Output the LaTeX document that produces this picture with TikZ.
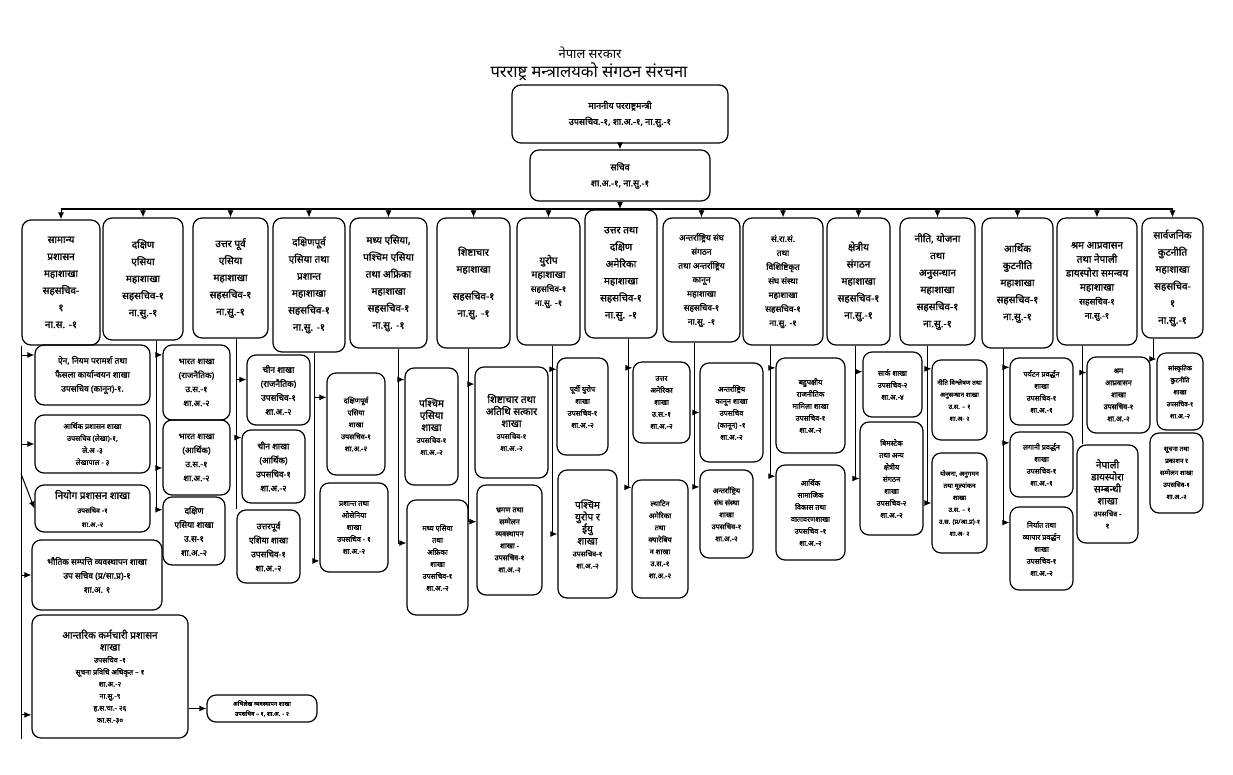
\documentclass[tikz,border=0pt]{standalone}
\usepackage{fontspec}
\newfontfamily\devfont[Script=Devanagari, FakeBold=1.4]{Noto Sans}
\newfontfamily\headfont[Script=Devanagari]{Noto Sans}
\usetikzlibrary{arrows.meta}
\tikzset{
  box/.style={draw, line width=1.2pt, rounded corners=9pt, align=center, inner sep=1pt},
  sz/.style 2 args={minimum width=#1pt, minimum height=#2pt},
  div/.style={box, font=\devfont\fontsize{10}{17}\selectfont},
  divs/.style={box, font=\devfont\fontsize{8.5}{14}\selectfont},
  br/.style={box, font=\devfont\fontsize{8.5}{14}\selectfont},
  brs/.style={box, font=\devfont\fontsize{7.3}{12}\selectfont},
  wire/.style={line width=1pt},
}
\newcommand{\lrg}[1]{{\fontsize{10}{14}\selectfont #1}}
\newcommand{\sml}[1]{{\fontsize{7}{11}\selectfont #1}}
\begin{document}
\begin{tikzpicture}[x=1pt, y=-1pt, >={Latex[length=7pt,width=6pt]}]
\useasboundingbox[fill=white] (0,0) rectangle (1233,774);
% heading
\node (hd1) [font=\headfont\fontsize{13}{15}\selectfont] at (590,53) {नेपाल सरकार};
\node (hd2) [font=\headfont\fontsize{16.5}{18}\selectfont] at (589,72) {परराष्ट्र मन्त्रालयको संगठन संरचना};
% minister and secretary
\node (m) [box, sz={216}{58}, font=\devfont\fontsize{9}{16}\selectfont] at (620,114) {माननीय परराष्ट्रमन्त्री\\उपसचिव.-१, शा.अ.-१, ना.सु.-१};
\node (s) [box, sz={180}{51}, font=\devfont\fontsize{9}{16}\selectfont] at (620,175.5) {सचिव\\शा.अ.-१, ना.सु.-१};
\coordinate (bus) at (620,209);
% divisions
\node (d1) [div, sz={78}{125}] at (61,282.5) {सामान्य\\प्रशासन\\महाशाखा\\सहसचिव-\\१\\ना.स. -१};
\node (d2) [div, sz={80}{122}] at (143,279) {दक्षिण\\एसिया\\महाशाखा\\सहसचिव-१\\ना.सु.-१};
\node (d3) [div, sz={75}{120}] at (230.5,278) {उत्तर पूर्व\\एसिया\\महाशाखा\\सहसचिव-१\\ना.सु.-१};
\node (d4) [div, sz={72}{134}] at (309,285) {दक्षिणपूर्व\\एसिया तथा\\प्रशान्त\\महाशाखा\\सहसचिव-१\\ना.सु. -१};
\node (d5) [div, sz={77}{130}] at (388.5,283) {मध्य एसिया,\\पश्चिम एसिया\\तथा अफ्रिका\\महाशाखा\\सहसचिव-१\\ना.सु. -१};
\node (d6) [div, sz={73}{130}] at (473.5,283) {शिष्टाचार\\महाशाखा\\[10pt]सहसचिव-१\\ना.सु. -१};
\node (d7) [divs, sz={63}{127}] at (548.5,281.5) {\lrg{युरोप}\\\lrg{महाशाखा}\\सहसचिव-१\\ना.सु. -१};
\node (d8) [div, sz={72}{128}] at (621,274) {उत्तर तथा\\दक्षिण\\अमेरिका\\महाशाखा\\सहसचिव-१\\ना.सु. -१};
\node (d9) [divs, sz={77}{124}] at (701.5,280) {अन्तर्राष्ट्रिय संघ\\संगठन\\तथा अन्तर्राष्ट्रिय\\कानून\\महाशाखा\\सहसचिव-१\\ना.सु. -१};
\node (d10) [divs, sz={80}{127}] at (783,281.5) {सं.रा.सं.\\तथा\\विशिष्टिकृत\\संघ संस्था\\महाशाखा\\सहसचिव-१\\ना.सु. -१};
\node (d11) [div, sz={63}{127}] at (858.5,281.5) {क्षेत्रीय\\संगठन\\महाशाखा\\सहसचिव-१\\ना.सु.-१};
\node (d12) [div, sz={75}{127}] at (937.5,281.5) {नीति, योजना\\तथा\\अनुसन्धान\\महाशाखा\\सहसचिव-१\\ना.सु.-१};
\node (d13) [div, sz={71}{130}] at (1017.5,283) {आर्थिक\\कुटनीति\\महाशाखा\\सहसचिव-१\\ना.सु.-१};
\node (d14) [divs, sz={80}{127}] at (1097,281.5) {\lrg{श्रम आप्रवासन}\\\lrg{तथा नेपाली}\\\lrg{डायस्पोरा समन्वय}\\\lrg{महाशाखा}\\सहसचिव-१\\ना.सु.-१};
\node (d15) [div, sz={61}{120}] at (1172.5,278) {सार्वजनिक\\कुटनीति\\महाशाखा\\सहसचिव-\\१\\ना.सु.-१};
% branches
\node (s1a) [br, sz={115}{60}] at (92.5,375) {ऐन, नियम परामर्श तथा\\फैसला कार्यान्वयन शाखा\\उपसचिव (कानून)-१.};
\node (s1b) [brs, sz={115}{58}] at (92.5,444) {आर्थिक प्रशासन शाखा\\उपसचिव (लेखा)-१,\\ले.अ -३\\लेखापाल - ३};
\node (s1c) [br, sz={115}{47}] at (92.5,508.5) {\lrg{नियोग प्रशासन शाखा}\\\sml{उपसचिव -१}\\\sml{शा.अ.-२}};
\node (s1d) [br, sz={130}{70}] at (97,575) {भौतिक सम्पत्ति व्यवस्थापन शाखा\\उप सचिव (प्र/सा.प्र)-१\\शा.अ. १};
\node (s1e) [brs, sz={156}{123}] at (110,676.5) {\lrg{आन्तरिक कर्मचारी प्रशासन}\\\lrg{शाखा}\\उपसचिव -१\\सूचना प्रविधि अधिकृत – १\\शा.अ.-२\\ना.सु.-९\\ह.स.चा.- २६\\का.स.-३०};
\node (s1f) [box, sz={110}{27}, font=\devfont\fontsize{6}{10}\selectfont] at (262,708.5) {अभिलेख व्यवस्थापन शाखा\\उपसचिव – १, शा.अ. - २};
\node (s2a) [br, sz={67}{75}] at (196.5,382.5) {भारत शाखा\\(राजनैतिक)\\उ.स.-१\\शा.अ.-२};
\node (s2b) [br, sz={67}{75}] at (196.5,457.5) {भारत शाखा\\(आर्थिक)\\उ.स.-१\\शा.अ.-२};
\node (s2c) [br, sz={62}{68}] at (194,531) {दक्षिण\\एसिया शाखा\\उ.स-१\\शा.अ.-२};
\node (s3a) [br, sz={63}{70}] at (278.5,390) {चीन शाखा\\(राजनैतिक)\\उपसचिव-१\\शा.अ.-२};
\node (s3b) [br, sz={63}{73}] at (273.5,466.5) {चीन शाखा\\(आर्थिक)\\उपसचिव-१\\शा.अ.-२};
\node (s3c) [br, sz={63}{73}] at (268.5,546.5) {उत्तरपूर्व\\एशिया शाखा\\उपसचिव-१\\शा.अ.-२};
\node (s4a) [brs, sz={58}{102}] at (356,424) {दक्षिणपूर्व\\एसिया\\शाखा\\उपसचिव-१\\शा.अ.-२};
\node (s4b) [brs, sz={68}{89}] at (354,527.5) {प्रशान्त तथा\\ओसेनिया\\शाखा\\उपसचिव - १\\शा.अ.-२};
\node (s5a) [brs, sz={53}{117}] at (431.5,426.5) {\lrg{पश्चिम}\\\lrg{एसिया}\\\lrg{शाखा}\\उपसचिव-१\\शा.अ.-२};
\node (s5b) [brs, sz={61}{115}] at (437.5,557.5) {मध्य एसिया\\तथा\\अफ्रिका\\शाखा\\उपसचिव-१\\शा.अ.-२};
\node (s6a) [brs, sz={73}{111}] at (511.5,422.5) {\lrg{शिष्टाचार तथा}\\\lrg{अतिथि सत्कार}\\\lrg{शाखा}\\उपसचिव-१\\शा.अ.-२};
\node (s6b) [brs, sz={65}{110}] at (509.5,540) {भ्रमण तथा\\सम्मेलन\\व्यवस्थापन\\शाखा -\\उपसचिव-१\\शा.अ.-२};
\node (s7a) [brs, sz={51}{97}] at (582.5,406.5) {पूर्वी युरोप\\शाखा\\उपसचिव-१\\शा.अ.-२};
\node (s7b) [brs, sz={59}{128}] at (587.5,534) {\lrg{पश्चिम}\\\lrg{युरोप र}\\\lrg{ईयु}\\\lrg{शाखा}\\उपसचिव-१\\शा.अ.-२};
\node (s8a) [brs, sz={57}{81}] at (661.5,402.5) {उत्तर\\अमेरिका\\शाखा\\उ.स.-१\\शा.अ.-२};
\node (s8b) [brs, sz={56}{118}] at (660,539) {ल्याटिन\\अमेरिका\\तथा\\क्यारेबिय\\न शाखा\\उ.स.-१\\शा.अ.-२};
\node (s9a) [brs, sz={63}{99}] at (731.5,412.5) {अन्तर्राष्ट्रिय\\कानून शाखा\\उपसचिव\\(कानून) -१\\शा.अ.-२};
\node (s9b) [brs, sz={53}{88}] at (726.5,514) {अन्तर्राष्ट्रिय\\संघ संस्था\\शाखा\\उपसचिव-१\\शा.अ.-२};
\node (s10a) [brs, sz={69}{95}] at (810.5,405.5) {बहुपक्षीय\\राजनीतिक\\मामिला शाखा\\उपसचिव-१\\शा.अ.-२};
\node (s10b) [brs, sz={69}{95}] at (810.5,512.5) {आर्थिक\\सामाजिक\\विकास तथा\\वातावरणशाखा\\उपसचिव -१\\शा.अ.-२};
\node (s11a) [brs, sz={59}{65}] at (892.5,384.5) {सार्क शाखा\\उपसचिव-२\\शा.अ.-४};
\node (s11b) [brs, sz={63}{113}] at (891.5,478.5) {बिमस्टेक\\तथा अन्य\\क्षेत्रीय\\संगठन\\शाखा\\उपसचिव-२\\शा.अ.-२};
\node (s12a) [brs, sz={55}{80}, font=\devfont\fontsize{6.5}{12}\selectfont] at (959.5,400) {नीति विश्लेषण तथा\\अनुसन्धान शाखा\\उ.स. – १\\शा.अ- २};
\node (s12b) [brs, sz={55}{100}, font=\devfont\fontsize{6.5}{12}\selectfont] at (959.5,503) {योजना, अनुगमन\\तथा मूल्यांकन\\शाखा\\उ.स. – १\\उ.स. (प्र/आ.प्र)-१\\शा.अ- २};
\node (s13a) [brs, sz={63}{67}] at (1041.5,391.5) {पर्यटन प्रवर्द्धन\\शाखा\\उपसचिव-१\\शा.अ.-१};
\node (s13b) [brs, sz={63}{65}] at (1041.5,464.5) {लगानी प्रवर्द्धन\\शाखा\\उपसचिव-१\\शा.अ.-१};
\node (s13c) [brs, sz={63}{83}] at (1041.5,548.5) {निर्यात तथा\\व्यापार प्रवर्द्धन\\शाखा\\उपसचिव-१\\शा.अ.-२};
\node (s14a) [brs, sz={63}{76}] at (1118.5,395) {श्रम\\आप्रवासन\\शाखा\\उपसचिव-१\\शा.अ.-२};
\node (s14b) [brs, sz={61}{98}] at (1107.5,494) {\lrg{नेपाली}\\\lrg{डायस्पोरा}\\\lrg{सम्बन्धी}\\\lrg{शाखा}\\उपसचिव -\\१};
\node (s15a) [brs, sz={46}{77}, font=\devfont\fontsize{6.5}{12}\selectfont] at (1180,391.5) {सांस्कृतिक\\कुटनीति\\शाखा\\उपसचिव-१\\शा.अ.-२};
\node (s15b) [brs, sz={53}{80}, font=\devfont\fontsize{6.5}{12}\selectfont] at (1176.5,473) {सूचना तथा\\प्रकाशन र\\सम्मेलन शाखा\\उपसचिव-१\\शा.अ.-२};
% top connectors
\draw[wire,->] (m) -- (s);
\draw[wire,->] (s.south) -- (bus);
\draw[line width=1.4pt] (d1.north |- bus) -- (d15.north |- bus);
\foreach \n in {1,...,7,9,10,...,15}
  \draw[wire,->] (d\n.north |- bus) -- (d\n.north);
% trunks under the divisions
\foreach \n/\x in {1/21,2/156,3/236,4/314,5/398,6/468,7/552,8/628,9/694,10/770,11/855,12/927,13/1003,14/1082,15/1153}
  \coordinate (tr\n) at (\x,0);
\draw[wire] (tr1 |- d1.south) -- (tr1 |- s1e.south);
\draw[wire,->] (tr1 |- s1a.161) -- (s1a.161);
\draw[wire,->] (tr1 |- s1b.west) -- (s1b.west);
\draw[wire,->] (tr1 |- s1b.south) -- (s1c.west);
\draw[wire,->] (tr1 |- s1d.west) -- (s1d.west);
\draw[wire,->] (tr1 |- s1e.206) -- (s1e.206);
\draw[wire,->] (s1e.east |- s1f.west) -- (s1f.west);
\draw[wire] (tr2 |- d2.south) -- (tr2 |- s2c.146);
\draw[wire,->] (tr2 |- s2a.141) -- (s2a.141);
\draw[wire,->] (tr2 |- s2b.197) -- (s2b.197);
\draw[wire,->] (tr2 |- s2c.146) -- (s2c.146);
\draw[wire] (tr3 |- d3.south) -- (tr3 |- s3c.north);
\draw[wire,->] (tr3 |- s3a.162) -- (s3a.162);
\draw[wire,->] (tr3 |- s3b.138) -- (s3b.138);
\draw[wire] (tr4 |- d4.south) -- (tr4 |- s4b.224);
\draw[wire,->] (tr4 |- s4a.138) -- (s4a.138);
\draw[wire,->] (tr4 |- s4b.224) -- (s4b.224);
\draw[wire] (tr5 |- d5.south) -- (tr5 |- s5b.155);
\draw[wire,->] (tr5 |- s5a.120) -- (s5a.120);
\draw[wire,->] (tr5 |- s5b.155) -- (s5b.155);
\draw[wire] (tr6 |- d6.south) -- (tr6 |- s6b.151);
\draw[wire,->] (tr6 |- s6a.134) -- (s6a.134);
\draw[wire,->] (tr6 |- s6b.151) -- (s6b.151);
\draw[wire] (tr7 |- d7.south) -- (tr7 |- s7b.west);
\draw[wire,->] (tr7 |- s7a.125) -- (s7a.125);
\draw[wire,->] (tr7 |- s7b.west) -- (s7b.west);
\draw[wire] (tr8 |- d8.south) -- (tr8 |- s8b.119);
\draw[wire,->] (tr8 |- s8a.130) -- (s8a.130);
\draw[wire,->] (tr8 |- s8b.119) -- (s8b.119);
\draw[wire] (tr9 |- d9.south) -- (tr9 |- s9b.135);
\draw[wire,->] (tr9 |- s9a.west) -- (s9a.west);
\draw[wire,->] (tr9 |- s9b.135) -- (s9b.135);
\draw[wire] (tr10 |- d10.south) -- (tr10 |- s10b.134);
\draw[wire,->] (tr10 |- s10a.133) -- (s10a.133);
\draw[wire,->] (tr10 |- s10b.134) -- (s10b.134);
\draw[wire] (tr11 |- d11.south) -- (tr11 |- s11b.west);
\draw[wire,->] (tr11 |- s11a.157) -- (s11a.157);
\draw[wire,->] (tr11 |- s11b.west) -- (s11b.west);
\draw[wire] (tr12 |- d12.south) -- (tr12 |- s12b.west);
\draw[wire,->] (tr12 |- s12a.132) -- (s12a.132);
\draw[wire,->] (tr12 |- s12b.west) -- (s12b.west);
\draw[wire] (tr13 |- d13.south) -- (tr13 |- s13c.141);
\draw[wire,->] (tr13 |- s13a.143) -- (s13a.143);
\draw[wire,->] (tr13 |- s13b.146) -- (s13b.146);
\draw[wire,->] (tr13 |- s13c.141) -- (s13c.141);
\draw[wire] (tr14 |- d14.south) -- (tr14 |- s14b.north);
\draw[wire,->] (tr14 |- s14a.145) -- (s14a.145);
\draw[wire] (tr15 |- d15.south) -- (tr15 |- s15a.126);
\draw[wire,->] (tr15 |- s15a.126) -- (s15a.126);
\end{tikzpicture}
\end{document}
